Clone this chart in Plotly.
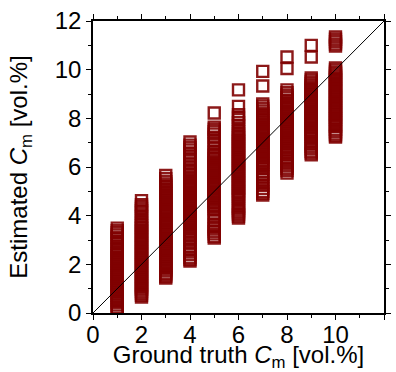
import plotly.graph_objects as go

# Ground-truth concentration levels
ground_truth = [1, 2, 3, 4, 5, 6, 7, 8, 9, 10]

est_1 = [3.49, 3.38, 3.3, 3.21, 3.12, 3.05, 2.93, 2.85, 2.72, 2.65,
         2.58, 2.5, 2.43, 2.35, 2.27, 2.2, 2.12, 2.04, 1.97, 1.89, 1.81, 1.74, 1.66,
         1.58, 1.51, 1.43, 1.35, 1.28, 1.2, 1.12, 1.05, 0.97, 0.89, 0.82, 0.74, 0.66,
         0.59, 0.51, 0.44, 0.33, 0.22, 0.12, 0.04]
est_2 = [4.62, 4.45, 4.38, 4.3, 4.2, 4.1, 3.97, 3.85, 3.76,
         3.68, 3.6, 3.52, 3.45, 3.37, 3.29, 3.21, 3.14, 3.06, 2.98, 2.9, 2.83, 2.75,
         2.67, 2.59, 2.52, 2.44, 2.36, 2.28, 2.21, 2.13, 2.05, 1.97, 1.9, 1.82, 1.74,
         1.66, 1.59, 1.51, 1.43, 1.35, 1.28, 1.2, 1.12, 1.04, 0.97,
         0.88, 0.8, 0.73, 0.66]
est_3 = [5.65, 5.52, 5.4, 5.3, 5.22,
         5.14, 5.06, 4.98, 4.91, 4.83, 4.75, 4.67, 4.6, 4.52, 4.44, 4.36, 4.29, 4.21,
         4.13, 4.05, 3.98, 3.9, 3.82, 3.74, 3.67, 3.59, 3.51, 3.43, 3.36, 3.28, 3.2,
         3.12, 3.05, 2.97, 2.89, 2.81, 2.74, 2.66, 2.58, 2.5, 2.43, 2.35, 2.27, 2.19,
         2.12, 2.04, 1.96, 1.88, 1.81, 1.73,
         1.64, 1.57, 1.5, 1.44]
est_4 = [7.03, 6.9, 6.8, 6.7, 6.55, 6.45, 6.3, 6.15, 6.0,
         5.9, 5.82, 5.74, 5.67, 5.59, 5.51, 5.43, 5.36, 5.28, 5.2, 5.12, 5.05, 4.97,
         4.89, 4.81, 4.74, 4.66, 4.58, 4.5, 4.43, 4.35, 4.27, 4.19, 4.12, 4.04, 3.96,
         3.88, 3.81, 3.73, 3.65, 3.57, 3.5, 3.42, 3.34, 3.26, 3.19, 3.11, 3.03,
         2.9, 2.75, 2.6, 2.5, 2.4, 2.28, 2.2, 2.14]
est_5 = [8.22, 7.64, 7.55, 7.45, 7.35, 7.22, 7.1, 6.95, 6.8, 6.65,
         6.56, 6.48, 6.4, 6.33, 6.25, 6.17, 6.09, 6.02, 5.94, 5.86, 5.78, 5.71, 5.63,
         5.55, 5.47, 5.4, 5.32, 5.24, 5.16, 5.09, 5.01, 4.93, 4.85, 4.78, 4.7, 4.62,
         4.54, 4.47, 4.39, 4.31, 4.23,
         4.1, 3.95, 3.8, 3.65, 3.55, 3.45, 3.35, 3.25, 3.15, 3.08]
est_6 = [9.17, 8.49, 8.15, 8.05, 7.95, 7.82, 7.7, 7.55, 7.45,
         7.37, 7.29, 7.21, 7.14, 7.06, 6.98, 6.9, 6.83, 6.75, 6.67, 6.59, 6.52, 6.44,
         6.36, 6.28, 6.21, 6.13, 6.05, 5.97, 5.9, 5.82, 5.74, 5.66, 5.59, 5.51, 5.43,
         5.35, 5.28, 5.2, 5.12, 5.04, 4.97, 4.89, 4.81, 4.73, 4.66,
         4.5, 4.4, 4.3, 4.2, 4.12, 4.05, 3.97, 3.9]
est_7 = [9.93, 9.33, 8.59, 8.5, 8.4, 8.3, 8.2,
         8.12, 8.04, 7.96, 7.89, 7.81, 7.73, 7.65, 7.58, 7.5, 7.42, 7.34, 7.27, 7.19,
         7.11, 7.03, 6.96, 6.88, 6.8, 6.72, 6.65, 6.57, 6.49, 6.41, 6.34, 6.26, 6.18,
         6.1, 6.03, 5.95,
         5.8, 5.7, 5.6, 5.48, 5.38, 5.25, 5.12, 5.0, 4.92, 4.85]
est_8 = [10.52, 10.05, 9.17, 9.05, 8.95, 8.85, 8.75,
         8.67, 8.59, 8.52, 8.44, 8.36, 8.28, 8.21, 8.13, 8.05, 7.97, 7.9, 7.82, 7.74,
         7.66, 7.59, 7.51, 7.43, 7.35, 7.28, 7.2, 7.12, 7.04, 6.97, 6.89, 6.81, 6.73,
         6.66, 6.58, 6.5,
         6.37, 6.25, 6.15, 6.05, 5.95, 5.85, 5.75]
est_9 = [11.0, 10.52, 9.66, 9.58, 9.5,
         9.42, 9.34, 9.27, 9.19, 9.11, 9.03, 8.96, 8.88, 8.8, 8.72, 8.65, 8.57, 8.49,
         8.41, 8.34, 8.26, 8.18, 8.1, 8.03, 7.95, 7.87, 7.79, 7.72, 7.64, 7.56, 7.48,
         7.41, 7.33, 7.25, 7.17,
         7.05, 6.95, 6.85, 6.75, 6.65, 6.57, 6.5]
est_10 = [11.34, 11.25, 11.15, 11.05, 10.97, 10.07,
          9.99, 9.91, 9.84, 9.76, 9.68, 9.6, 9.53, 9.45, 9.37, 9.29, 9.22, 9.14, 9.06,
          8.98, 8.91, 8.83, 8.75, 8.67, 8.6, 8.52, 8.44, 8.36, 8.29, 8.21, 8.13, 8.05,
          7.98, 7.9, 7.82, 7.74, 7.67,
          7.55, 7.45, 7.35, 7.28, 7.23]

estimates = [est_1, est_2, est_3, est_4, est_5, est_6, est_7, est_8, est_9, est_10]

# Identity line
line_x = [0, 12]
line_y = [0, 12]

xs, ys = [], []
for g, vals in zip(ground_truth, estimates):
    xs.extend([g] * len(vals))
    ys.extend(vals)

fig = go.Figure()
fig.add_trace(go.Scatter(
    x=xs, y=ys, mode="markers",
    marker=dict(symbol="square-open", size=11, color="#800000",
                line=dict(width=2.4, color="#800000"), opacity=0.9),
    showlegend=False, hoverinfo="skip"))
fig.add_trace(go.Scatter(
    x=line_x, y=line_y, mode="lines",
    line=dict(color="black", width=1), showlegend=False, hoverinfo="skip"))

axis_common = dict(
    range=[0, 12], dtick=2, tick0=0,
    showline=True, linecolor="black", linewidth=1.5,
    mirror="ticks", ticks="outside", ticklen=5, tickwidth=1.3, tickcolor="black",
    minor=dict(dtick=1, ticks="outside", ticklen=3, tickwidth=1.1, tickcolor="black"),
    showgrid=False, zeroline=False,
    tickfont=dict(size=24, color="black"),
    fixedrange=True,
)

fig.update_layout(
    width=396, height=372,
    margin=dict(l=93, r=12, t=21, b=59, autoexpand=False),
    paper_bgcolor="white", plot_bgcolor="white",
    font=dict(family="Liberation Sans, Arial, sans-serif", color="black"),
    xaxis=dict(**axis_common, ticklabelstandoff=-6,
               title=dict(text="Ground truth <i>C</i><sub>m</sub> [vol.%]",
                          font=dict(size=24), standoff=2)),
    yaxis=dict(**axis_common,
               title=dict(text="Estimated <i>C</i><sub>m</sub> [vol.%]",
                          font=dict(size=24), standoff=20)),
)

fig.write_html("out.html")
